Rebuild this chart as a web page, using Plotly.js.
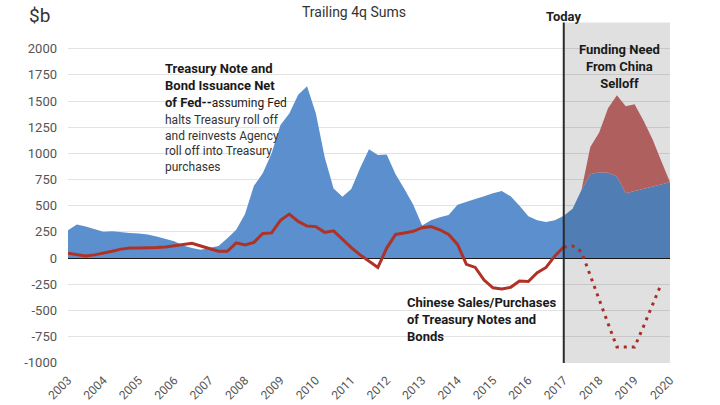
<!DOCTYPE html>
<html>
<head>
<meta charset="utf-8">
<script src="https://cdn.plot.ly/plotly-3.0.1.min.js"></script>
<style>html,body{margin:0;padding:0;background:#fff}#chart{width:720px;height:405px}</style>
</head>
<body>
<div id="chart"></div>
<script>
// Quarterly dates (decimal years)
const issuanceDates = [2003.0,2003.25,2003.5,2003.75,2004.0,2004.25,2004.5,2004.75,2005.0,2005.25,2005.5,2005.75,2006.0,2006.25,2006.5,2006.75,2007.0,2007.25,2007.5,2007.75,2008.0,2008.25,2008.5,2008.75,2009.0,2009.25,2009.5,2009.75,2010.0,2010.25,2010.5,2010.75,2011.0,2011.25,2011.5,2011.75,2012.0,2012.25,2012.5,2012.75,2013.0,2013.25,2013.5,2013.75,2014.0,2014.25,2014.5,2014.75,2015.0,2015.25,2015.5,2015.75,2016.0,2016.25,2016.5,2016.75,2017.0,2017.25,2017.5,2017.75,2018.0,2018.25,2018.5,2018.75,2019.0,2019.25,2019.5,2019.75,2020.0];
// Treasury note & bond issuance net of Fed ($b, trailing 4q sums)
const issuance = [265,320,300,275,250,255,245,240,235,225,205,180,160,120,95,80,100,115,190,270,420,690,810,1000,1270,1380,1560,1640,1380,960,665,585,660,860,1040,985,990,800,660,510,310,360,390,410,510,540,565,590,620,640,590,500,400,360,345,360,405,470,650,800,820,815,780,620,640,665,685,705,725];

// Funding need from China selloff (stacked on top of issuance)
const fundingDates = [2017.5,2017.75,2018.0,2018.25,2018.5,2018.75,2019.0,2019.25,2019.5,2019.75,2020.0];
const fundingNeed = [0,260,380,615,775,830,830,650,455,225,0];

// Chinese sales/purchases of Treasury notes & bonds - history
const chinaDates = [2003.0,2003.25,2003.5,2003.75,2004.0,2004.25,2004.5,2004.75,2005.0,2005.25,2005.5,2005.75,2006.0,2006.25,2006.5,2006.75,2007.0,2007.25,2007.5,2007.75,2008.0,2008.25,2008.5,2008.75,2009.0,2009.25,2009.5,2009.75,2010.0,2010.25,2010.5,2010.75,2011.0,2011.25,2011.5,2011.75,2012.0,2012.25,2012.5,2012.75,2013.0,2013.25,2013.5,2013.75,2014.0,2014.25,2014.5,2014.75,2015.0,2015.25,2015.5,2015.75,2016.0,2016.25,2016.5,2016.75,2017.0];
const china = [45,30,20,30,45,65,85,95,95,95,100,105,115,125,140,115,90,65,65,145,125,150,235,240,360,420,350,305,300,245,260,180,100,30,-30,-90,95,225,240,255,290,300,270,225,130,-60,-90,-210,-285,-295,-280,-220,-225,-140,-90,20,105];

// Chinese sales - projected selloff
const chinaProjDates = [2017.0,2017.25,2017.5,2017.75,2018.0,2018.25,2018.5,2018.75,2019.0,2019.25,2019.5,2019.75];
const chinaProj = [105,115,60,-175,-400,-625,-850,-850,-850,-655,-460,-250];

const todayX = 2017.0;
const yearTicks = [2003,2004,2005,2006,2007,2008,2009,2010,2011,2012,2013,2014,2015,2016,2017,2018,2019,2020];
const yTicks = [-1000,-750,-500,-250,0,250,500,750,1000,1250,1500,1750,2000,2250];
const yTickText = ['-1000','-750','-500','-250','0','250','500','750','1000','1250','1500','1750','2000',''];

const FONT = 'Roboto, Lato, sans-serif';

const traces = [
  {x: issuanceDates, y: issuance, type:'scatter', mode:'lines', stackgroup:'a',
   line:{width:0, color:'#5b8fcd'}, fillcolor:'#5b8fcd', hoverinfo:'skip', name:'Issuance'},
  {x: fundingDates, y: fundingNeed, type:'scatter', mode:'lines', stackgroup:'a', stackgaps:'interpolate',
   line:{width:0, color:'#c86e6c'}, fillcolor:'#c86e6c', hoverinfo:'skip', name:'Funding need'},
  {x: chinaDates, y: china, type:'scatter', mode:'lines',
   line:{width:3, color:'#b03226'}, hoverinfo:'skip', name:'China'},
  {x: chinaProjDates, y: chinaProj, type:'scatter', mode:'lines',
   line:{width:3, color:'#bd372c', dash:'3px,5px'}, hoverinfo:'skip', name:'China proj'}
];

const layout = {
  width:720, height:405,
  margin:{l:68, r:50, t:22, b:42},
  paper_bgcolor:'#ffffff', plot_bgcolor:'#ffffff',
  showlegend:false,
  font:{family:FONT, color:'#444', size:12},
  xaxis:{type:'linear', range:[2003,2020], tickvals:yearTicks, ticktext:yearTicks.map(String),
    tickangle:-45, showgrid:false, zeroline:false, showline:false, ticks:'',
    ticklabelstandoff:7, tickfont:{size:12, color:'#555', family:FONT}},
  yaxis:{range:[-1003,2255], tickvals:yTicks, ticktext:yTickText, showgrid:true, gridcolor:'#e3e3e3', gridwidth:1,
    zeroline:true, zerolinecolor:'#1a1a1a', zerolinewidth:1.5, showline:false, ticks:'',
    ticklabelstandoff:10, tickfont:{size:13, color:'#555', family:FONT}},
  shapes:[
    {type:'rect', xref:'x', yref:'y', x0:todayX, x1:2020, y0:-1003, y1:2250, layer:'above',
     fillcolor:'rgba(0,0,0,0.12)', line:{width:0}},
    {type:'line', xref:'x', yref:'y', x0:todayX, x1:todayX, y0:-1003, y1:2250, layer:'above',
     line:{color:'#2b2b2b', width:2}}
  ],
  annotations:[
    {text:'Trailing 4q Sums', xref:'paper', yref:'paper', x:0.475, y:1.0, yshift:10, yanchor:'middle', xanchor:'center',
     showarrow:false, font:{size:14, color:'#333', family:FONT}},
    {text:'$b', xref:'paper', yref:'paper', x:-0.048, y:1.0, yshift:7, xanchor:'center', yanchor:'middle',
     showarrow:false, font:{size:19, color:'#333', family:FONT}},
    {text:'<b>Today</b>', xref:'x', yref:'paper', x:todayX, y:1.0, yshift:6, xanchor:'center', yanchor:'middle',
     showarrow:false, font:{size:13, color:'#222', family:FONT}},
    {text:'<b>Treasury Note and<br>Bond Issuance Net<br>of Fed--</b><span style="font-size:12px">assuming Fed</span>',
     xref:'x', yref:'y', x:2005.68, y:1647, xanchor:'left', yanchor:'middle', align:'left',
     showarrow:false, font:{size:13, color:'#1a1a1a', family:FONT}},
    {text:'halts Treasury roll off<br>and reinvests Agency<br>roll off into Treasury<br>purchases',
     xref:'x', yref:'y', x:2005.68, y:1095, xanchor:'left', yanchor:'middle', align:'left',
     showarrow:false, font:{size:12, color:'#333', family:FONT}},
    {text:'<b>Chinese Sales/Purchases<br>of Treasury Notes and<br>Bonds</b>',
     xref:'x', yref:'y', x:2012.52, y:-590, xanchor:'left', yanchor:'middle', align:'left',
     showarrow:false, font:{size:13, color:'#1a1a1a', family:FONT}},
    {text:'<b>Funding Need<br>From China<br>Selloff</b>',
     xref:'x', yref:'y', x:2018.56, y:1828, xanchor:'center', yanchor:'middle', align:'center',
     showarrow:false, font:{size:13, color:'#1a1a1a', family:FONT}}
  ]
};

Plotly.newPlot('chart', traces, layout, {displayModeBar:false, staticPlot:true});
</script>
</body>
</html>
